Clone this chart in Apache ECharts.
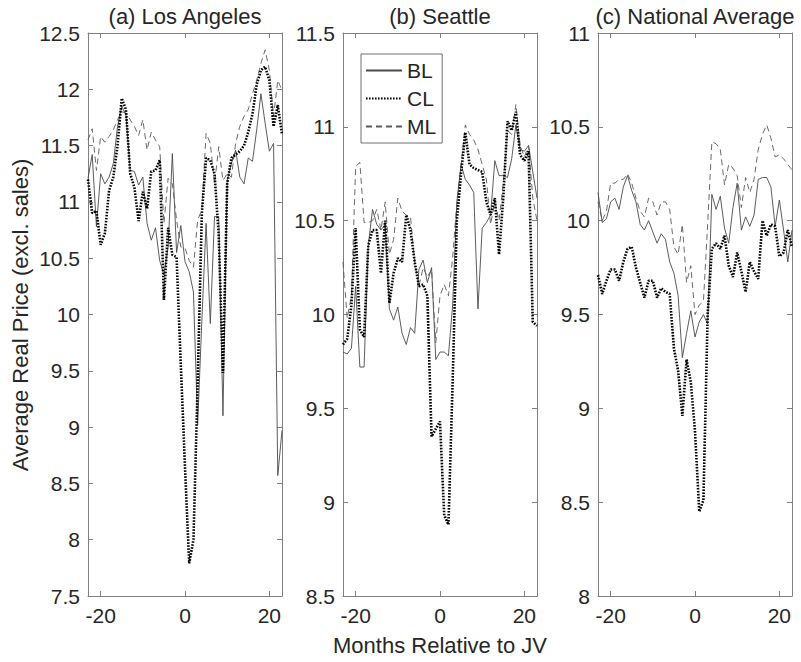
<!DOCTYPE html>
<html>
<head>
<meta charset="utf-8">
<script src="https://cdn.jsdelivr.net/npm/echarts@6/dist/echarts.min.js"></script>
<style>
html, body { margin: 0; padding: 0; background: #fff; }
#chart { width: 801px; height: 662px; }
</style>
</head>
<body>
<div id="chart"></div>
<script>
// months relative to the JV
const months = [-23, -22, -21, -20, -19, -18, -17, -16, -15, -14, -13, -12, -11, -10, -9, -8, -7, -6, -5, -4, -3, -2, -1, 0, 1, 2, 3, 4, 5, 6, 7, 8, 9, 10, 11, 12, 13, 14, 15, 16, 17, 18, 19, 20, 21, 22, 23]
const xTicks = [-20, 0, 20]

// (a) Los Angeles
const laBL = [11.21, 11.42, 10.78, 11.25, 11.16, 11.22, 11.34, 11.67, 11.85, 11.77, 11.28, 11.27, 11.15, 11.22, 10.81, 10.66, 10.77, 10.48, 10.35, 10.6, 11.43, 10.55, 10.79, 10.47, 10.38, 10.2, 9.02, 9.95, 10.81, 9.92, 10.87, 10.87, 9.1, 11.19, 11.34, 11.46, 11.22, 11.16, 11.39, 11.36, 11.64, 11.96, 11.7, 11.45, 11.52, 8.57, 8.97]
const laCL = [11.2, 10.9, 10.92, 10.62, 10.72, 11.1, 11.22, 11.5, 11.92, 11.82, 11.25, 11.13, 10.83, 11.09, 10.94, 11.27, 11.28, 11.37, 10.13, 10.77, 10.53, 10.51, 9.55, 8.65, 7.79, 8.0, 9.4, 10.9, 11.39, 11.37, 11.25, 10.7, 9.48, 11.16, 11.39, 11.42, 11.45, 11.5, 11.62, 11.78, 12.04, 12.17, 12.2, 12.08, 11.67, 11.86, 11.6]
const laML = [11.55, 11.65, 11.28, 11.58, 11.53, 11.58, 11.64, 11.73, 11.8, 11.79, 11.73, 11.67, 11.59, 11.73, 11.46, 11.62, 11.55, 11.49, 10.81, 11.21, 11.16, 10.84, 10.6, 10.59, 10.48, 10.42, 10.84, 10.93, 11.61, 11.52, 11.16, 11.49, 11.19, 11.25, 11.22, 11.52, 11.67, 11.76, 11.82, 11.96, 12.08, 12.23, 12.35, 12.17, 11.76, 12.08, 11.99]

// (b) Seattle
const seaBL = [9.8, 9.79, 9.82, 10.15, 9.72, 9.72, 10.37, 10.56, 10.48, 10.45, 10.48, 10.03, 9.97, 10.04, 9.9, 9.84, 9.93, 9.9, 10.24, 10.29, 10.17, 10.25, 9.76, 9.8, 9.8, 9.78, 10.05, 10.6, 10.8, 10.72, 10.69, 10.65, 10.03, 10.46, 10.49, 10.53, 10.82, 10.74, 10.74, 10.73, 10.83, 11.01, 10.88, 10.87, 10.9, 10.76, 10.62]
const seaCL = [9.84, 9.87, 10.05, 10.46, 9.92, 9.88, 10.37, 10.45, 10.45, 10.22, 10.5, 10.06, 10.22, 10.3, 10.28, 10.53, 10.45, 10.28, 10.15, 10.16, 10.1, 9.35, 9.39, 9.43, 8.93, 8.88, 9.65, 10.5, 10.75, 10.97, 10.8, 10.78, 10.77, 10.76, 10.6, 10.53, 10.62, 10.32, 10.62, 11.03, 10.98, 11.08, 10.85, 10.82, 10.87, 9.96, 9.94]
const seaML = [10.28, 9.98, 10.1, 10.79, 10.81, 10.49, 10.49, 10.5, 10.56, 10.45, 10.6, 10.32, 10.4, 10.62, 10.55, 10.53, 10.52, 10.28, 10.15, 10.25, 10.2, 10.24, 9.85, 10.1, 10.16, 10.1, 10.3, 10.6, 10.8, 11.01, 10.96, 10.93, 10.88, 10.8, 10.72, 10.48, 10.6, 10.5, 10.7, 10.98, 10.96, 11.12, 10.9, 10.84, 10.9, 10.62, 10.5]

// (c) National Average
const natBL = [10.15, 9.99, 10.01, 10.1, 10.12, 10.06, 10.18, 10.24, 10.16, 10.1, 9.98, 9.95, 10.0, 9.94, 9.88, 9.93, 9.9, 9.78, 9.72, 9.6, 9.27, 9.4, 9.52, 9.38, 9.46, 9.5, 9.45, 10.14, 10.06, 10.13, 9.96, 9.88, 10.07, 10.2, 9.95, 10.02, 9.97, 10.03, 10.22, 10.23, 10.23, 10.18, 9.97, 10.11, 9.95, 9.78, 9.95]
const natCL = [9.71, 9.61, 9.68, 9.74, 9.74, 9.68, 9.78, 9.85, 9.86, 9.75, 9.67, 9.59, 9.68, 9.68, 9.59, 9.64, 9.62, 9.61, 9.32, 9.2, 8.96, 9.26, 9.14, 8.88, 8.45, 8.51, 9.5, 9.85, 9.88, 9.85, 9.92, 9.76, 9.7, 9.83, 9.73, 9.62, 9.78, 9.73, 9.69, 10.0, 9.92, 9.98, 9.97, 9.81, 9.83, 9.95, 9.86]
const natML = [10.1, 10.0, 10.05, 10.2, 10.2, 10.22, 10.22, 10.25, 10.2, 10.12, 10.05, 10.02, 10.12, 10.1, 10.03, 10.1, 10.1, 10.06, 9.86, 9.82, 9.98, 9.67, 9.76, 9.5, 9.55, 9.57, 9.98, 10.42, 10.41, 10.38, 10.19, 10.3, 10.28, 10.24, 10.07, 10.23, 10.15, 10.22, 10.38, 10.46, 10.51, 10.44, 10.34, 10.35, 10.33, 10.3, 10.27]

const font = 'Liberation Sans, Arial, Helvetica, sans-serif'
const textColor = '#262626'
const axisColor = '#808080'

const panels = [
	{ title: '(a) Los Angeles', left: 88, min: 7.5, max: 12.5, bl: laBL, cl: laCL, ml: laML },
	{ title: '(b) Seattle', left: 343, min: 8.5, max: 11.5, bl: seaBL, cl: seaCL, ml: seaML },
	{ title: '(c) National Average', left: 598, min: 8, max: 11, bl: natBL, cl: natCL, ml: natML },
]
const gridTop = 33
const gridHeight = 563
const gridWidth = 194

const pairs = (arr) => months.map((m, i) => [m, arr[i]])

const styles = {
	BL: { color: '#4a4a4a', width: 0.9, type: 'solid' },
	CL: { color: '#000', width: 2.6, type: [1.6, 1.4] },
	ML: { color: '#5a5a5a', width: 0.9, type: [6, 4] },
}

const grid = []
const xAxis = []
const yAxis = []
const series = []
const graphic = []

panels.forEach((p, i) => {
	grid.push({ left: p.left, top: gridTop, width: gridWidth, height: gridHeight })

	const tick = { show: true, inside: true, length: 5, lineStyle: { color: axisColor } }
	const line = { show: true, onZero: false, lineStyle: { color: axisColor, width: 1 } }

	xAxis.push({
		type: 'value', gridIndex: i, position: 'bottom', min: -23, max: 23,
		axisLine: line,
		axisTick: { ...tick, customValues: xTicks },
		axisLabel: { customValues: xTicks, fontSize: 21, color: textColor, fontFamily: font, margin: 9 },
		splitLine: { show: false },
	})
	xAxis.push({
		type: 'value', gridIndex: i, position: 'top', min: -23, max: 23,
		axisLine: line,
		axisTick: { ...tick, customValues: xTicks },
		axisLabel: { show: false },
		splitLine: { show: false },
	})
	yAxis.push({
		type: 'value', gridIndex: i, position: 'left', min: p.min, max: p.max, interval: 0.5,
		axisLine: line,
		axisTick: tick,
		axisLabel: { fontSize: 21, color: textColor, fontFamily: font, margin: 8 },
		splitLine: { show: false },
	})
	yAxis.push({
		type: 'value', gridIndex: i, position: 'right', min: p.min, max: p.max, interval: 0.5,
		axisLine: line,
		axisTick: tick,
		axisLabel: { show: false },
		splitLine: { show: false },
	})

	const base = { type: 'line', xAxisIndex: 2 * i, yAxisIndex: 2 * i, showSymbol: false, symbol: 'none', animation: false, silent: true }
	series.push({ ...base, name: 'BL', data: pairs(p.bl), lineStyle: styles.BL, itemStyle: { color: styles.BL.color }, z: 2 })
	series.push({ ...base, name: 'CL', data: pairs(p.cl), lineStyle: styles.CL, itemStyle: { color: styles.CL.color }, z: 4 })
	series.push({ ...base, name: 'ML', data: pairs(p.ml), lineStyle: styles.ML, itemStyle: { color: styles.ML.color }, z: 3 })

	graphic.push({
		type: 'text', x: p.left + gridWidth / 2, y: 16,
		style: { text: p.title, fontSize: 22, fontFamily: font, fill: textColor, textAlign: 'center', textVerticalAlign: 'middle' },
	})
})

graphic.push({
	type: 'text', x: 20, y: 315, rotation: Math.PI / 2,
	style: { text: 'Average Real Price (excl. sales)', fontSize: 22, fontFamily: font, fill: textColor, textAlign: 'center', textVerticalAlign: 'middle' },
})
graphic.push({
	type: 'text', x: 440, y: 645,
	style: { text: 'Months Relative to JV', fontSize: 22, fontFamily: font, fill: textColor, textAlign: 'center', textVerticalAlign: 'middle' },
})

const chart = echarts.init(document.getElementById('chart'), null, { renderer: 'svg' })
chart.setOption({
	animation: false,
	backgroundColor: '#fff',
	grid,
	xAxis,
	yAxis,
	series,
	graphic,
	legend: {
		data: ['BL', 'CL', 'ML'],
		orient: 'vertical',
		left: 361,
		top: 54,
		itemWidth: 36,
		itemHeight: 12,
		itemGap: 7,
		padding: [6, 6, 6, 4],
		borderColor: '#6e6e6e',
		borderWidth: 1,
		backgroundColor: '#fff',
		itemStyle: { opacity: 0 },
		textStyle: { fontSize: 21, color: textColor, fontFamily: font },
		selectedMode: false,
	},
})
</script>
</body>
</html>
